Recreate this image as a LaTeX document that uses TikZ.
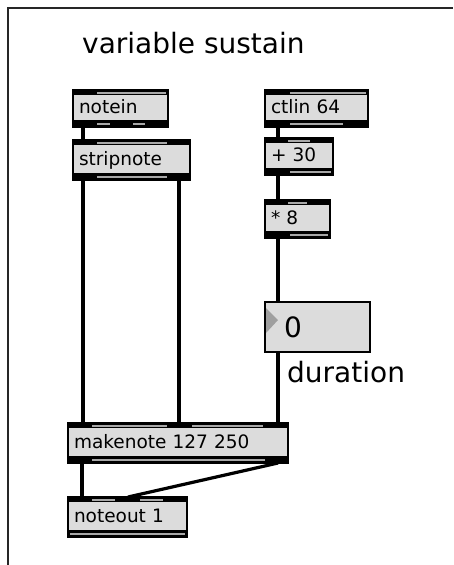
\documentclass[tikz,border=0pt]{standalone}
\usepackage{fontspec}
\setmainfont{DejaVu Sans}
\definecolor{boxgray}{HTML}{DCDCDC}
\definecolor{portgray}{HTML}{A8A8A8}
\begin{document}
\begin{tikzpicture}[x=1pt,y=-1pt,every node/.style={font=\fontsize{18.5}{20}\selectfont},
  obj/.style={draw,line width=2pt,fill=boxgray,anchor=north west,outer sep=0pt,inner xsep=6pt,inner ysep=0pt,align=left,text height=13pt,text depth=3pt},
  ports/.style 2 args={path picture={
    \fill[black] (path picture bounding box.north west) rectangle ([yshift=-5pt]path picture bounding box.north east);
    \fill[black] ([yshift=7pt]path picture bounding box.south west) rectangle (path picture bounding box.south east);
    \foreach \a/\b in {#1} \fill[portgray] ([xshift=\a pt,yshift=-1.5pt]path picture bounding box.north west) rectangle ([xshift=\b pt,yshift=-3.5pt]path picture bounding box.north west);
    \foreach \a/\b in {#2} \fill[portgray] ([xshift=\a pt,yshift=2.5pt]path picture bounding box.south west) rectangle ([xshift=\b pt,yshift=4.5pt]path picture bounding box.south west);}},
  patch/.style={line width=3.2pt},
  big/.style={font=\fontsize{28}{32}\selectfont,anchor=base west,inner sep=0pt}]
\useasboundingbox (0,0) rectangle (453,565);
\draw[line width=1.2pt,black!85] (8,565) -- (8,8) -- (453,8);
\node[big] (title) at (82,53) {variable sustain};
\node[obj,ports={24/93}{24/37,60/72},text width=83pt,minimum height=37pt] (notein) at (73,90) {notein};
\node[obj,ports={24/94}{24/94},text width=105pt,minimum height=40pt] (stripnote) at (73,140) {stripnote};
\node[obj,ports={25/101}{25/78},text width=91pt,minimum height=37pt] (ctlin) at (265,90) {ctlin 64};
\node[obj,ports={23/45}{25/66},text width=56pt,minimum height=37pt] (plus) at (265,138) {+ 30};
\node[obj,ports={23/42}{25/63},text width=53pt,minimum height=38pt] (times) at (265,200) {* 8};
\node[obj,font=\fontsize{28}{30}\selectfont,inner xsep=19pt,text width=67pt,minimum height=50pt,text height=22pt,text depth=2pt] (dur) at (265,302) {0};
\fill[gray!75] (266,308) -- (278,320) -- (266,333) -- cycle;
\node[big] (durlabel) at (287,382) {duration};
\node[obj,ports={24/99,124/195}{24/197},text width=208pt,minimum height=40pt] (makenote) at (68,423) {makenote 127 250};
\node[obj,ports={24/47,72/95}{2/117},text width=107pt,minimum height=40pt] (noteout) at (68,497) {noteout 1};
\draw[patch] ([xshift=10pt]notein.south west) -- ([xshift=10pt]stripnote.north west);
\draw[patch] ([xshift=10pt]stripnote.south west) -- ([xshift=15pt]makenote.north west);
\draw[patch] ([xshift=106pt]stripnote.south west) -- ([xshift=111pt]makenote.north west);
\draw[patch] ([xshift=13pt]ctlin.south west) -- ([xshift=13pt]plus.north west);
\draw[patch] ([xshift=13pt]plus.south west) -- ([xshift=13pt]times.north west);
\draw[patch] ([xshift=13pt]times.south west) -- ([xshift=13pt]dur.north west);
\draw[patch] ([xshift=13pt]dur.south west) -- ([xshift=210pt]makenote.north west);
\draw[patch] ([xshift=14pt]makenote.south west) -- ([xshift=14pt]noteout.north west);
\draw[patch] ([xshift=210pt]makenote.south west) -- ([xshift=60pt]noteout.north west);
\end{tikzpicture}
\end{document}
